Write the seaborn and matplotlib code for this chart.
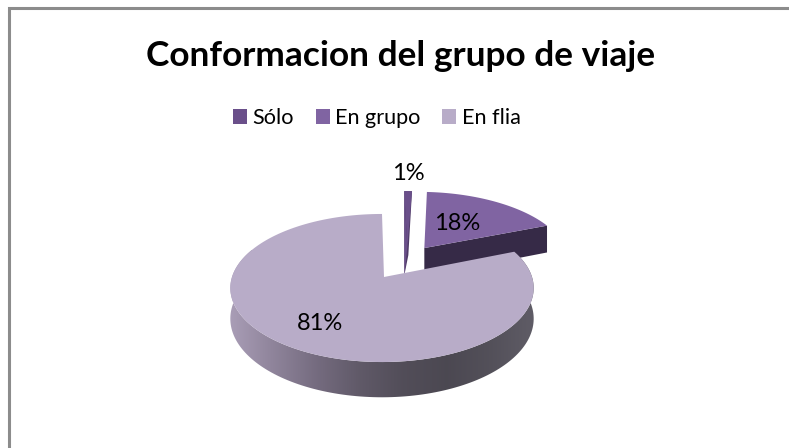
import numpy as np
import seaborn as sns
import matplotlib.pyplot as plt
from matplotlib.patches import Patch, PathPatch
from matplotlib.path import Path
from matplotlib.colors import LinearSegmentedColormap

labels = ['Sólo', 'En grupo', 'En flia']
values = [1, 18, 81]
title = 'Conformacion del grupo de viaje'

sns.set_theme(style='white')
plt.rcParams['font.family'] = ['Lato', 'DejaVu Sans']

colors = ['#6a4f8a', '#8064a2', '#b8acc8']
wall_colors = ['#4f3b67', '#362a47']
rim_colors = sns.blend_palette(['#a99db6', '#7a7085', '#55505c', '#4a4750', '#5f5c66'], 8)

# how far each slice is pulled out of the pie (in units of the radius)
offsets = [(0.18, 0.44), (0.30, 0.425), (0, 0)]

CX, CY, RX, RY, K, DEPTH = 382, 277, 150, 72.4, 0.1486, 30


def project(u, v, drop=False):
    # circle coords -> pixels, with some perspective so the far side is smaller
    w = 1 + K * v
    x = CX + RX * u / w
    y = CY - RY * v / w
    if drop:
        y = y + DEPTH / w
    return x, y


def arc(a0, a1, off=(0, 0), drop=False):
    ang = np.radians(np.linspace(a0, a1, 200))
    return project(np.sin(ang) + off[0], np.cos(ang) + off[1], drop)


fig = plt.figure(figsize=(7.89, 4.48), dpi=100)
ax = fig.add_axes([0, 0, 1, 1])
ax.set_xlim(0, 789)
ax.set_ylim(448, 0)
ax.axis('off')

# frame, only left and top are in the crop
ax.plot([9, 9, 789], [448, 8.5, 8.5], color='#8c8c8c', lw=2.2, solid_joinstyle='miter')

edges = np.cumsum([0] + values) * 3.6

# En grupo
off = offsets[1]
p0 = project(off[0], off[1])
p1 = project(off[0], off[1], True)
gx, gy = arc(edges[1], edges[2], off)
dx, dy = arc(edges[1], edges[2], off, True)
ax.fill([p0[0], gx[-1], dx[-1], p1[0]], [p0[1], gy[-1], dy[-1], p1[1]], color=wall_colors[1], lw=0)
ax.fill(np.r_[p0[0], gx], np.r_[p0[1], gy], color=colors[1], lw=0)

# Sólo, the wall runs down to a thin tip
off = offsets[0]
p0 = project(off[0], off[1])
p1 = project(off[0], off[1], True)
tip = (p1[0] - 3, p1[1])
sx, sy = arc(edges[0], edges[1], off)
ax.fill([sx[0], sx[-1], p0[0] + 1, tip[0]], [sy[0], sy[-1], p0[1] + 8, tip[1]], color=wall_colors[0], lw=0)
ax.fill(np.r_[p0[0], sx], np.r_[p0[1], sy], color=colors[0], lw=0)
ax.fill([sx[0], p0[0], tip[0]], [sy[0], p0[1], tip[1]], color=colors[0], lw=0)

# En flia, rim first with the gradient clipped to it
top_x, top_y = arc(edges[2], 360)
low_x, low_y = arc(edges[2], 360, drop=True)
rim_xy = np.c_[np.r_[top_x, low_x[::-1]], np.r_[top_y, low_y[::-1]]]
rim = PathPatch(Path(np.vstack([rim_xy, rim_xy[0]]), closed=True), transform=ax.transData, lw=0, fc='none')
ax.add_patch(rim)
cmap = LinearSegmentedColormap.from_list('rim', rim_colors)
im = ax.imshow(np.linspace(0, 1, 256)[None, :], cmap=cmap, aspect='auto',
               extent=[230, 534, 400, 250], zorder=2)
im.set_clip_path(rim)
ax.set_xlim(0, 789)
ax.set_ylim(448, 0)
ax.fill(np.r_[CX + 2, top_x], np.r_[CY, top_y], color=colors[2], lw=0, zorder=3)

# slice labels
text_xy = [(408, 173), (457, 224), (320, 323)]
for v, (x, y) in zip(values, text_xy):
    ax.text(x, y, f'{v}%', ha='center', va='center', fontsize=17, color='black', zorder=5)

ax.text(400.5, 56, title, ha='center', va='center', fontsize=25.4, fontweight='bold', color='black')

handles = [Patch(facecolor=c, edgecolor='none') for c in colors]
ax.legend(handles, labels, ncol=3, loc='center', bbox_to_anchor=(377 / 789, 1 - 118 / 448),
          frameon=False, fontsize=15.6, handlelength=0.65, handleheight=0.65,
          handletextpad=0.25, columnspacing=1.0, labelcolor='black')

fig.savefig('out.png', dpi=100)
